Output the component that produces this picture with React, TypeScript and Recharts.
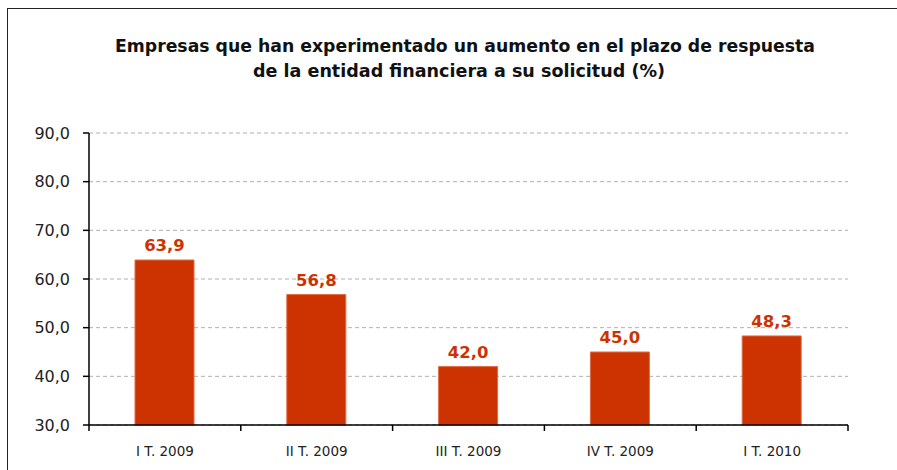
import React from "react";
import { Bar, BarChart, CartesianGrid, LabelList, XAxis, YAxis } from "recharts";

const quarters = ["I T. 2009", "II T. 2009", "III T. 2009", "IV T. 2009", "I T. 2010"];
const values = [63.9, 56.8, 42.0, 45.0, 48.3];
const yTicks = [30, 40, 50, 60, 70, 80, 90];
const titleLines = [
  "Empresas que han experimentado un aumento en el plazo de respuesta",
  "de la entidad financiera a su solicitud (%)",
];

const data = quarters.map((q, i) => ({ q, value: values[i] }));

const fmt = (v: number) => v.toFixed(1).replace(".", ",");
const FONT = "'DejaVu Sans', sans-serif";

function QuarterTick(props: any) {
  const { x, y, payload, index, visibleTicksCount } = props;
  const half = payload?.offset ?? 76;
  const isLast = index === visibleTicksCount - 1;
  return (
    <g>
      <line x1={x - half} y1={y - 8} x2={x - half} y2={y - 2} stroke="#000" strokeWidth={1.5} />
      {isLast && (
        <line x1={x + half} y1={y - 8} x2={x + half} y2={y - 2} stroke="#000" strokeWidth={1.5} />
      )}
      <text x={x} y={y + 23} textAnchor="middle" fontSize={13.5} fill="#222" fontFamily={FONT}>
        {payload.value}
      </text>
    </g>
  );
}

export default function App() {
  return (
    <div style={{ position: "absolute", left: 0, top: 0, width: 897, height: 470, background: "#fff", overflow: "hidden" }}>
      <div
        style={{
          position: "absolute",
          left: 7,
          top: 8,
          width: 900,
          height: 480,
          border: "1.5px solid #222",
          boxSizing: "border-box",
        }}
      />
      <svg style={{ position: "absolute", left: 0, top: 0 }} width={897} height={100}>
        <text
          x={465}
          y={52}
          textAnchor="middle"
          fontFamily={FONT}
          fontWeight={700}
          fontSize={17}
          fill="#111"
          textLength={700}
          lengthAdjust="spacingAndGlyphs"
        >
          {titleLines[0]}
        </text>
        <text
          x={459}
          y={77}
          textAnchor="middle"
          fontFamily={FONT}
          fontWeight={700}
          fontSize={17}
          fill="#111"
          textLength={412}
          lengthAdjust="spacingAndGlyphs"
        >
          {titleLines[1]}
        </text>
      </svg>
      <div style={{ position: "absolute", left: 0, top: 0 }}>
        <BarChart
          width={897}
          height={470}
          data={data}
          margin={{ top: 133, right: 49, bottom: 15, left: 0 }}
        >
          <CartesianGrid vertical={false} stroke="#b0b0b0" strokeDasharray="4 3" />
          <XAxis
            dataKey="q"
            axisLine={{ stroke: "#000", strokeWidth: 1.5 }}
            tickLine={false}
            tick={<QuarterTick />}
            height={30}
            interval={0}
          />
          <YAxis
            domain={[30, 90]}
            ticks={yTicks}
            width={89}
            tickFormatter={fmt}
            axisLine={{ stroke: "#000", strokeWidth: 1.5 }}
            tickLine={{ stroke: "#000", strokeWidth: 1.5 }}
            tickSize={6}
            tick={{ fontSize: 16, fill: "#222", fontFamily: FONT }}
            tickMargin={13}
          />
          <Bar dataKey="value" fill="#cc3300" stroke="#e06a45" strokeWidth={1} barSize={59} isAnimationActive={false}>
            <LabelList
              dataKey="value"
              position="top"
              offset={9}
              formatter={(v: any) => fmt(Number(v))}
              style={{ fill: "#cc3300", fontSize: 16.5, fontWeight: 700, fontFamily: FONT }}
            />
          </Bar>
        </BarChart>
      </div>
    </div>
  );
}
